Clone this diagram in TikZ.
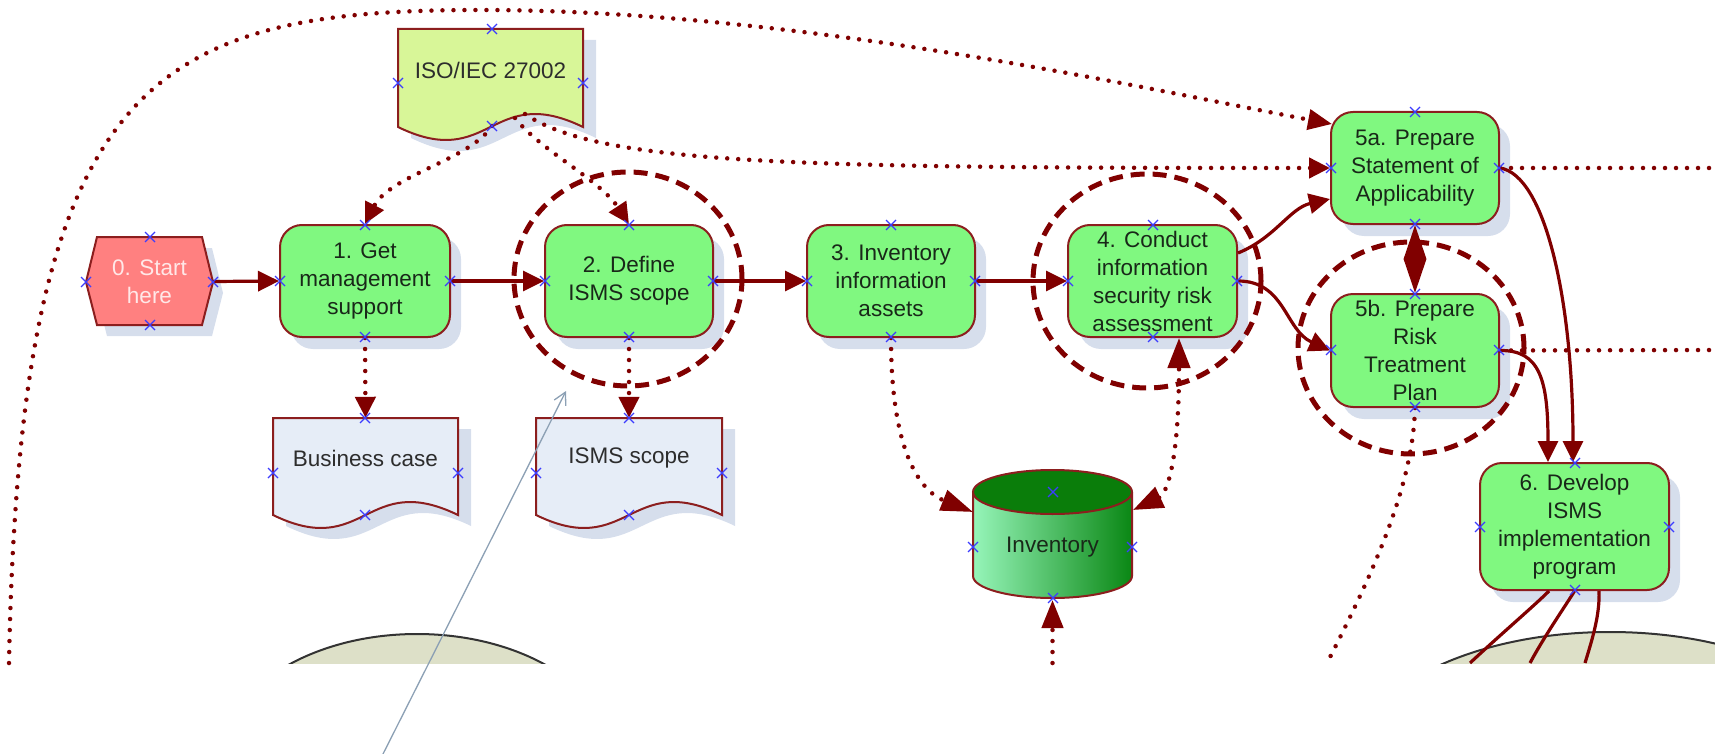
\documentclass[tikz,border=0pt]{standalone}
\usepackage{fontspec}
\setmainfont{Liberation Sans}
\usetikzlibrary{arrows.meta,shadows,calc}
\definecolor{dred}{RGB}{128,0,0}
\definecolor{bord}{RGB}{140,30,30}
\definecolor{boxg}{RGB}{128,248,128}
\definecolor{startr}{RGB}{255,128,128}
\definecolor{starttxt}{RGB}{255,232,232}
\definecolor{isoy}{RGB}{216,246,152}
\definecolor{docb}{RGB}{230,237,247}
\definecolor{shad}{RGB}{214,222,236}
\definecolor{cyltop}{RGB}{10,125,10}
\definecolor{cylL}{RGB}{150,245,185}
\definecolor{cylR}{RGB}{10,135,20}
\definecolor{phase}{RGB}{221,224,200}
\definecolor{grayarr}{RGB}{140,160,180}
\definecolor{markc}{RGB}{60,60,255}
\definecolor{txt}{RGB}{25,40,25}
\definecolor{doctxt}{RGB}{45,45,45}
\newcommand\docpath[4]{(#1,#2) -- (#3,#2) -- (#3,#4) .. controls +(-92.5,-45) and +(92.5,45) .. (#1,#4) -- cycle}
\begin{document}
\begin{tikzpicture}[x=1pt,y=-1pt,
  every node/.style={font=\fontsize{22.5pt}{28pt}\selectfont, text=txt, align=center, inner sep=0pt},
  proc/.style={draw=bord, line width=2pt, fill=boxg, rounded corners=22pt,
    minimum width=168pt, minimum height=112pt,
    drop shadow={shadow xshift=11pt, shadow yshift=-12pt, fill=shad, opacity=1}},
  shapeline/.style={draw=bord, line width=2pt},
  conn/.style={draw=dred, line width=3.2pt},
  dots/.style={draw=dred, line width=4.5pt, line cap=round, dash pattern=on 0pt off 11pt},
  tip/.style={-{Triangle[length=21pt,width=20pt]}},
  ltip/.style={-{Triangle[length=28pt,width=21pt]}},
  dcirc/.style={draw=dred, line width=5pt, dash pattern=on 14pt off 8pt},
  xm/.style={draw=markc, line width=1.3pt},
]
\useasboundingbox (0,0) rectangle (1715,754);

% phase ellipses (cut off)
\begin{scope}
  \clip (0,0) rectangle (1715,663);
  \filldraw[fill=phase, draw=black!80, line width=2pt] (417,766) ellipse [x radius=200pt, y radius=132pt];
  \filldraw[fill=phase, draw=black!80, line width=2pt] (1610,768) ellipse [x radius=260pt, y radius=136pt];
\end{scope}

% start hexagon
\fill[shad, xshift=10pt, yshift=-11pt] (86,282) -- (97,237) -- (202,237) -- (213,282) -- (202,325) -- (97,325) -- cycle;
\filldraw[shapeline, fill=startr] (86,282) -- (97,237) -- (202,237) -- (213,282) -- (202,325) -- (97,325) -- cycle;
\node[text=starttxt, minimum width=127pt, minimum height=88pt] (start) at (149.5,281.5) {0. Start\\here};

% documents
\fill[shad, xshift=13pt, yshift=-11pt] \docpath{398}{29}{583}{127};
\filldraw[shapeline, fill=isoy] \docpath{398}{29}{583}{127};
\node[text=doctxt, minimum width=185pt, minimum height=82pt] (iso) at (490.5,70) {ISO/IEC 27002};

\fill[shad, xshift=13pt, yshift=-11pt] \docpath{273}{418}{458}{515};
\filldraw[shapeline, fill=docb] \docpath{273}{418}{458}{515};
\node[text=doctxt, minimum width=185pt, minimum height=80pt] (bc) at (365.5,458) {Business case};

\fill[shad, xshift=13pt, yshift=-11pt] \docpath{536}{418}{722}{515};
\filldraw[shapeline, fill=docb] \docpath{536}{418}{722}{515};
\node[text=doctxt, minimum width=186pt, minimum height=80pt] (is) at (629,458) {ISMS scope};

% inventory cylinder
\fill[left color=cylL, right color=cylR] (973,492) -- (973,576) arc[start angle=180, end angle=360, x radius=79.5pt, y radius=22pt] -- (1132,492) -- cycle;
\draw[shapeline] (973,492) -- (973,576) arc[start angle=180, end angle=360, x radius=79.5pt, y radius=22pt] -- (1132,492);
\filldraw[shapeline, fill=cyltop] (1052.5,492) ellipse [x radius=79.5pt, y radius=22pt];
\node[minimum width=159pt, minimum height=110pt] (inv) at (1052.5,547) {Inventory};

% process boxes
\node[proc, minimum width=170pt] (b1) at (365,281) {1. Get\\management\\support};
\node[proc] (b2) at (629,281) {2. Define\\ISMS scope};
\node[proc] (b3) at (891,281) {3. Inventory\\information\\assets};
\node[proc, minimum width=169pt] (b4) at (1152.5,281) {4. Conduct\\information\\security risk\\assessment};
\node[proc] (p5a) at (1415,168) {5a. Prepare\\Statement of\\Applicability};
\node[proc, minimum height=113pt] (p5b) at (1415,350.5) {5b. Prepare\\Risk\\Treatment\\Plan};
\node[proc, minimum width=189pt, minimum height=127pt] (p6) at (1574.5,526.5) {6. Develop\\ISMS\\implementation\\program};

% dashed highlight circles
\draw[dcirc] (628,279) ellipse [x radius=114pt, y radius=107pt];
\draw[dcirc] (1147,281) ellipse [x radius=114pt, y radius=107pt];
\draw[dcirc] (1411,348) ellipse [x radius=113pt, y radius=106pt];

% named free ends / attachment points
\coordinate (arc0) at (9,663);
\coordinate (isob) at (492,126);
\coordinate (isoc1) at (515,118);
\coordinate (isoc2) at (525,114);
\coordinate (invnw) at (973,512);
\coordinate (invne) at (1133,510);
\coordinate (invs) at (1052.5,600);
\coordinate (invlow) at (1052.5,663);
\coordinate (b4s) at (1179,338);
\coordinate (c5b) at (1327,663);
\coordinate (e1) at (1715,168);
\coordinate (e2) at (1715,350);
\coordinate (l1) at (1470,663);
\coordinate (l2) at (1530,663);
\coordinate (l3) at (1585,663);
\coordinate (g0) at (383,754);
\coordinate (g1) at (566,391);

% dotted connectors
\draw[dots, -{Triangle[length=24pt,width=20pt]}] (arc0) .. controls (20,80) and (150,10) .. (480,10) .. controls (800,10) and (1150,90) .. ($(p5a.north west)+(2,13)$);
\draw[dots, tip] (isoc2) .. controls (600,165) and (800,168) .. (p5a.west);
\draw[dots, tip] (isob) .. controls (470,160) and (390,175) .. (b1.north);
\draw[dots, tip] (isoc1) .. controls (540,150) and (600,180) .. (b2.north);
\draw[dots, tip] (b1.south) -- (bc.north);
\draw[dots, tip] (b2.south) -- (is.north);
\draw[dots, -{Triangle[length=32pt,width=21pt]}] (b3.south) .. controls (891,470) and (930,495) .. (invnw);
\draw[dots, {Triangle[length=30pt,width=22pt]}-{Triangle[length=30pt,width=22pt]}] (invne) .. controls (1165,495) and (1179,470) .. (b4s);
\draw[dots, ltip] (invlow) -- (invs);
\draw[dots] (p5b.south) .. controls (1413,480) and (1380,560) .. (c5b);
\draw[dots] (p5a.east) -- (e1);
\draw[dots] (p5b.east) -- (e2);

% solid connectors
\draw[conn, tip] (start.east) -- (b1.west);
\draw[conn, tip] (b1.east) -- (b2.west);
\draw[conn, tip] (b2.east) -- (b3.west);
\draw[conn, tip] (b3.east) -- (b4.west);
\draw[conn, tip] ($(b4.east)+(0,-28)$) .. controls (1275,238) and (1290,208) .. ($(p5a.west)+(0,31)$);
\draw[conn, tip] (b4.east) .. controls (1285,281) and (1285,330) .. (p5b.west);
\draw[conn, {Triangle[length=34pt,width=22pt]}-{Triangle[length=34pt,width=22pt]}] (p5a.south) -- (p5b.north);
\draw[conn, tip] (p5a.east) .. controls (1545,175) and (1573,300) .. ($(p6.north)+(-1.5,0)$);
\draw[conn, tip] (p5b.east) .. controls (1540,350) and (1548,380) .. ($(p6.north)+(-26.5,0)$);
\draw[conn] ($(p6.south)+(-25.5,0)$) .. controls (1535,605) and (1500,635) .. (l1);
\draw[conn] (p6.south) .. controls (1568,602) and (1545,635) .. (l2);
\draw[conn] ($(p6.south)+(24.5,0)$) .. controls (1600,615) and (1592,640) .. (l3);

% connection point markers
\foreach \x/\y in {150/237,150/325,86/282,213/282,
  365/225,365/337,280/281,450/281,
  629/225,629/337,545/281,713/281,
  891/225,891/337,807/281,975/281,
  1153/225,1153/337,1068/281,1237/281,
  1415/112,1415/224,1331/168,1499/168,
  1415/294,1415/407,1331/350,1499/350,
  1575/463,1575/590,1480/527,1669/527,
  492/29,398/83,583/83,492/126,
  365/418,273/473,458/473,365/515,
  629/418,536/473,722/473,629/515,
  1053/492,973/547,1132/547,1053/598}
  \draw[xm] (\x,\y) +(-5,-5) -- +(5,5) +(-5,5) -- +(5,-5);

% thin grey pointer
\draw[draw=grayarr, line width=1.3pt, -{Straight Barb[length=12pt,width=13pt]}] (g0) -- (g1);
\end{tikzpicture}
\end{document}
